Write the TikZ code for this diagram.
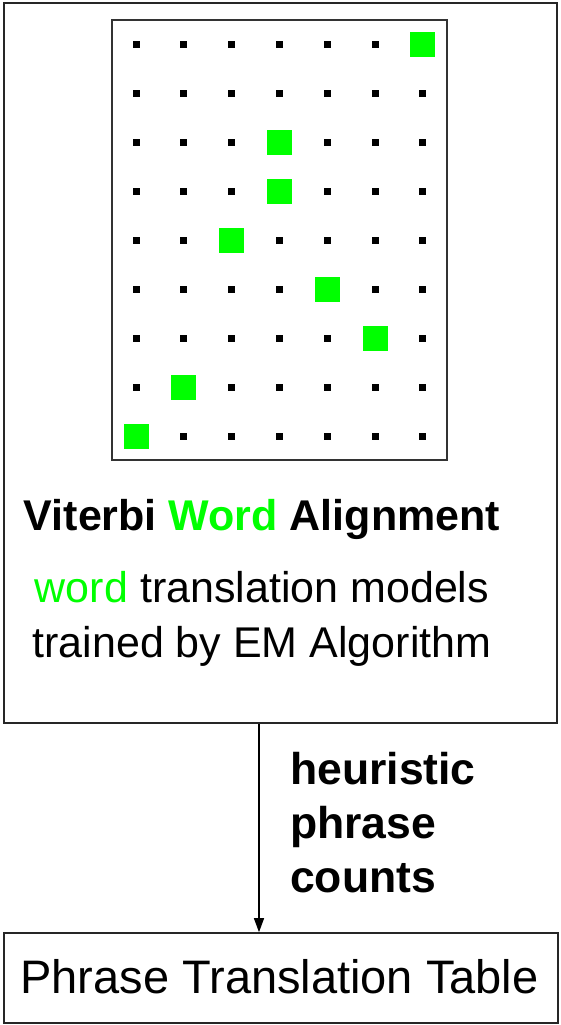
\documentclass[tikz,border=0pt]{standalone}
\usepackage{fontspec}
\setmainfont{Liberation Sans}
\usetikzlibrary{arrows.meta}
\definecolor{wgreen}{RGB}{0,255,0}
\tikzset{
  frame/.style={draw=black!85, line width=1.6pt, inner sep=0pt},
  gridframe/.style={draw=black!80, line width=1.2pt},
  dot/.style={fill=black, minimum size=7pt, inner sep=0pt, draw=none},
  hit/.style={fill=wgreen, minimum size=25pt, inner sep=0pt, draw=none},
  bigtext/.style={inner sep=0pt, font=\fontsize{43}{55}\selectfont},
  labeltext/.style={inner sep=0pt, align=left, font=\fontsize{44.5}{54}\selectfont\bfseries},
  flow/.style={draw=black, line width=1.2pt, -{Triangle[width=10pt,length=14pt]}}
}
\begin{document}
\begin{tikzpicture}[x=1pt,y=-1pt]
\useasboundingbox (0,0) rectangle (560,1025);

% upper box: alignment step
\node[frame, rectangle, minimum width=553pt, minimum height=720pt] (align) at (280.5,363) {};
% lower box: result table
\node[frame, rectangle, minimum width=554pt, minimum height=90pt] (table) at (281,978) {};

% alignment matrix
\node[gridframe, rectangle, minimum width=335pt, minimum height=440pt, inner sep=0pt] (matrix) at (279.5,240) {};
\foreach \i in {0,...,6} {
  \foreach \j in {0,...,8} {
    \node[dot] (d\i\j) at ({136+47.8*\i},{44.5+49*\j}) {};
  }
}
\foreach \i/\j in {6/0, 3/2, 3/3, 2/4, 4/5, 5/6, 1/7, 0/8} {
  \node[hit] (h\i\j) at ({136+47.8*\i},{44.5+49*\j}) {};
}

% captions inside the upper box
\node[bigtext, anchor=base, font=\fontsize{43}{55}\selectfont\bfseries] (title) at (262,530)
  {Viterbi \textcolor{wgreen}{Word} Alignment};
\node[bigtext, anchor=base] (desc1) at (262,602)
  {\textcolor{wgreen}{word} translation models};
\node[bigtext, anchor=base] (desc2) at (262,657)
  {trained by EM Algorithm};

% lower box caption
\node[inner sep=0pt, anchor=base, font=\fontsize{47}{54}\selectfont] (tabletext) at (279.5,993)
  {Phrase Translation Table};

% connector and its label (anchored at the baseline of the last line)
\coordinate (ax) at (259,0);
\draw[flow] (align.south -| ax) -- (table.north -| ax);
\node[labeltext, anchor=base west] (heur) at (290,892) {heuristic\\phrase\\counts};
\end{tikzpicture}
\end{document}
